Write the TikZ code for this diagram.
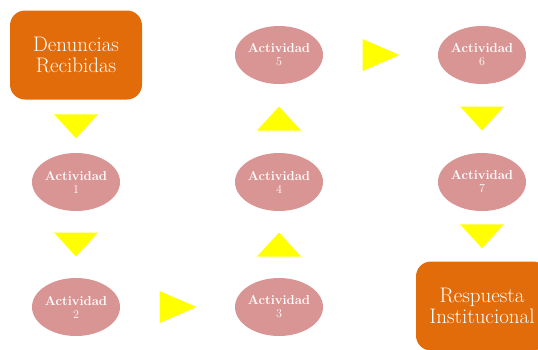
\documentclass[tikz,border=0pt]{standalone}
\usepackage{tikz}
\usetikzlibrary{shapes.geometric,calc}
\definecolor{naranja}{HTML}{E36C0A}
\definecolor{rosa}{HTML}{D99594}
\definecolor{amarillo}{HTML}{FFFF00}
\newcommand{\num}[1]{{\mdseries\fontsize{12}{13}\selectfont #1}}

\begin{document}
\begin{tikzpicture}[line cap=round,line join=round,x=1pt,y=-1pt,
  caja/.style={fill=naranja,rounded corners=15pt,minimum width=132pt,minimum height=89pt,
    text=white,align=center,font=\fontsize{21}{21}\selectfont},
  activ/.style={ellipse,fill=rosa,minimum width=88pt,minimum height=58pt,inner sep=0pt,
    text=white,align=center,font=\bfseries\fontsize{13}{13}\selectfont},
  tri/.style={fill=amarillo}]
\useasboundingbox (0,0) rectangle (538,349);
\clip (0,0) rectangle (538,349);
\node[caja] (den) at (76,55) {Denuncias\\Recibidas};
\node[activ] (a1) at (76,182) {Actividad\\\num{1}};
\node[activ] (a2) at (76,307) {Actividad\\\num{2}};
\node[activ] (a3) at (279,307) {Actividad\\\num{3}};
\node[activ] (a4) at (279,182) {Actividad\\\num{4}};
\node[activ] (a5) at (279,55) {Actividad\\\num{5}};
\node[activ] (a6) at (482,55) {Actividad\\\num{6}};
\node[activ] (a7) at (482,182) {Actividad\\\num{7}};
\node[caja] (resp) at (482,306) {Respuesta\\Institucional};
\coordinate (t1) at ($(den.south)!0.5!(a1.north)$);
\coordinate (t2) at ($(a1.south)!0.5!(a2.north)$);
\coordinate (t3) at ($(a2.east)!0.5!(a3.west)$);
\coordinate (t4) at ($(a3.north)!0.5!(a4.south)$);
\coordinate (t5) at ($(a4.north)!0.5!(a5.south)$);
\coordinate (t6) at ($(a5.east)!0.5!(a6.west)$);
\coordinate (t7) at ($(a6.south)!0.5!(a7.north)$);
\coordinate (t8) at ($(a7.south)!0.5!(resp.north)$);
% flechas abajo
\fill[tri] (t1) ++(-22,-12) -- ++(44,0) -- ++(-22,24) -- cycle;
\fill[tri] (t2) ++(-22,-12) -- ++(44,0) -- ++(-22,24) -- cycle;
\fill[tri] (t7) ++(-22,-12) -- ++(44,0) -- ++(-22,24) -- cycle;
\fill[tri] (t8) ++(-22,-12) -- ++(44,0) -- ++(-22,24) -- cycle;
% flechas arriba
\fill[tri] (t4) ++(-22,12) -- ++(44,0) -- ++(-22,-24) -- cycle;
\fill[tri] (t5) ++(-22,12) -- ++(44,0) -- ++(-22,-24) -- cycle;
% flechas derecha
\fill[tri] (t3) ++(-18,-16) -- ++(0,32) -- ++(37,-16) -- cycle;
\fill[tri] (t6) ++(-18,-16) -- ++(0,32) -- ++(37,-16) -- cycle;
\end{tikzpicture}
\end{document}
